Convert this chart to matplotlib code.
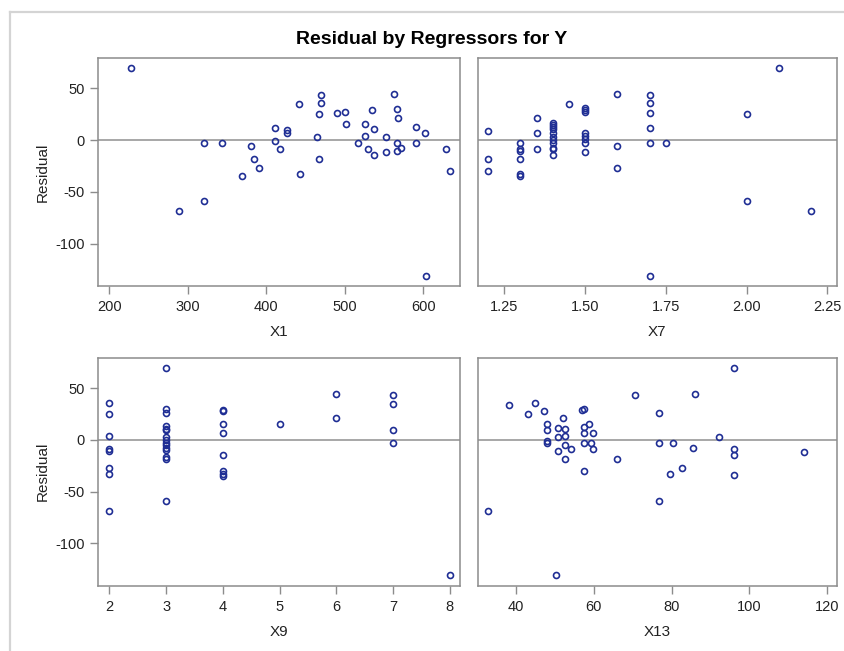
import matplotlib
matplotlib.use("Agg")
import matplotlib.pyplot as plt
from matplotlib.lines import Line2D
from matplotlib.ticker import FixedLocator, FormatStrFormatter

plt.rcParams['font.family'] = ['Liberation Sans', 'DejaVu Sans']
plt.rcParams['axes.unicode_minus'] = False  # SAS shows plain hyphens

# residuals
x1 = [228, 289, 320, 320, 344, 369, 380, 384, 391, 411, 411, 417, 426, 426, 441,
      443, 465, 467, 467, 470, 470, 490, 500, 502, 517, 526, 526, 529, 534, 537,
      537, 552, 552, 563, 566, 566, 566, 568, 572, 591, 591, 602, 604, 629, 634]
r1 = [69.6, -68.3, -59.2, -2.6, -2.6, -34.3, -5.5, -18.4, -27.5, 11.7, -1.3, -9, 9.4,
      7.1, 34.3, -33, 2.6, 24.9, -18.4, 43.4, 35.3, 26.2, 27.5, 15.8, -2.6, 15.5, 3.9,
      -9, 28.8, 10.4, -14.6, 2.6, -11.7, 44.7, -2.6, -10.7, 30.1, 21, -7.8, 12.9,
      -2.6, 6.5, -131, -9, -30.1]

x7 = [1.2, 1.2, 1.2,
      1.3, 1.3, 1.3, 1.3, 1.3, 1.3,
      1.35, 1.35, 1.35,
      1.4, 1.4, 1.4, 1.4, 1.4, 1.4, 1.4, 1.4, 1.4, 1.4, 1.4,
      1.45,
      1.5, 1.5, 1.5, 1.5, 1.5, 1.5, 1.5, 1.5,
      1.6, 1.6, 1.6,
      1.7, 1.7, 1.7, 1.7, 1.7, 1.7,
      1.75, 2.0, 2.0, 2.1, 2.2]
r7 = [9.1, -18.4, -30.1,
      -2.6, -9, -10.5, -18.4, -33, -34.3,
      21, 6.5, -9,
      16.8, 14.9, 12.9, 10.4, 6.5, 2.6, 0, -2.6, -7.8, -9, -14.6,
      34.3,
      30.7, 29.1, 27.5, 6.5, 3.9, 1.3, -2.6, -11.7,
      44.7, -5.5, -27.5,
      43.4, 35.3, 26.2, 11.7, -2.6, -131,
      -2.6, 24.9, -59.2, 69.6, -68.3]

x9 = [2, 2, 2, 2, 2, 2, 2, 2,
      3, 3, 3, 3, 3, 3, 3, 3, 3, 3, 3, 3, 3, 3, 3,
      4, 4, 4, 4, 4, 4, 4, 4,
      5, 6, 6, 7, 7, 7, 7, 8]
r9 = [35.3, 24.9, 3.9, -9, -10.4, -27.5, -32.7, -68.3,
      69.6, 30.1, 25.9, 13, 11, 10, 2.6, 0, -2.6, -5.2, -7.8, -9.7, -16.5, -18.4, -59.2,
      29.1, 27.5, 15.5, 6.5, -14.6, -29.8, -33, -35,
      15.5, 44.7, 21, 43.4, 34.3, 9.1, -2.6, -131]

x13 = [32.9, 38.3, 43.1, 44.9, 47.2, 47.9, 47.9, 47.9, 47.9, 50.2, 50.9, 50.9, 50.9,
       52.0, 52.7, 52.7, 52.7, 52.7, 54.1, 57.0, 57.4, 57.4, 57.4, 57.4, 57.4, 58.8,
       59.2, 59.9, 59.9, 66.0, 70.7, 76.8, 76.8, 76.8, 79.6, 80.3, 82.7, 85.4, 86.1,
       92.2, 96.0, 96.0, 96.0, 96.0, 114.0]
r13 = [-68.3, 34, 24.9, 35.3, 27.5, 15.5, 9.1, -1.3, -2.6, -131, 11.7, 2.6, -10.7,
       21, 10.4, 3.9, -5.2, -18.4, -9, 28.8, 30.1, 12.9, 6.5, -2.6, -30.1, 15.5,
       -2.6, 6.5, -9, -18.4, 43.4, 26.2, -2.6, -59.2, -33, -2.6, -27.5, -7.8, 44.7,
       2.6, 69.6, -9, -14.6, -34.3, -11.7]

panels = [
    # x, resid, label, xlim, xticks, fmt
    (x1, r1, "X1", (186, 646.7), [200, 300, 400, 500, 600], "%d"),
    (x7, r7, "X7", (1.168, 2.28), [1.25, 1.50, 1.75, 2.00, 2.25], "%.2f"),
    (x9, r9, "X9", (1.806, 8.18), [2, 3, 4, 5, 6, 7, 8], "%d"),
    (x13, r13, "X13", (30.15, 122.5), [40, 60, 80, 100, 120], "%d"),
]

W, H = 845, 651
fig = plt.figure(figsize=(W / 100, H / 100), dpi=100)

# pixel boxes (left, top, right, bottom)
boxes = [(98.3, 57.7, 460, 286), (477.7, 57.7, 837, 286),
         (98.3, 357.7, 460, 585.7), (477.7, 357.7, 837, 585.7)]

axis_gray = '#8c8c8c'
mark_col = '#1f2e94'

for i, ((x, r, lab, xlim, xt, fmt), (l, t, rr, b)) in enumerate(zip(panels, boxes)):
    ax = fig.add_axes([l / W, 1 - b / H, (rr - l) / W, (b - t) / H])
    ax.axhline(0, color='#909090', lw=1.1, zorder=1)
    ax.plot(x, r, 'o', ms=4.3, mfc='none', mec=mark_col, mew=1.2, zorder=3)
    ax.set_xlim(*xlim)
    ax.set_ylim(-141, 79.5)
    ax.xaxis.set_major_locator(FixedLocator(xt))
    ax.xaxis.set_major_formatter(FormatStrFormatter(fmt))
    for s in ax.spines.values():
        s.set_color(axis_gray)
        s.set_linewidth(1.1)
    ax.tick_params(axis='both', direction='out', length=5.5, width=1.0,
                   color=axis_gray, labelsize=10.5, labelcolor='#222222', pad=4.5)
    ax.set_xlabel(lab, fontsize=11, color='#222222', labelpad=8)
    if i % 2 == 0:
        ax.set_yticks([-100, -50, 0, 50])
        ax.set_ylabel("Residual", fontsize=11, color='#222222', labelpad=4)
    else:
        ax.set_yticks([])

fig.text(431.5 / W, 1 - 39 / H, "Residual by Regressors for Y", ha='center', va='center',
         fontsize=14, fontweight='bold', color='black')

# light outer frame of the graph area
fig.add_artist(Line2D([10 / W, 10 / W], [0, 1 - 12 / H], color='#d4d4d4', lw=1.6))
fig.add_artist(Line2D([10 / W, 1], [1 - 12 / H, 1 - 12 / H], color='#d4d4d4', lw=1.6))

fig.savefig("out.png", dpi=100, facecolor='white')
